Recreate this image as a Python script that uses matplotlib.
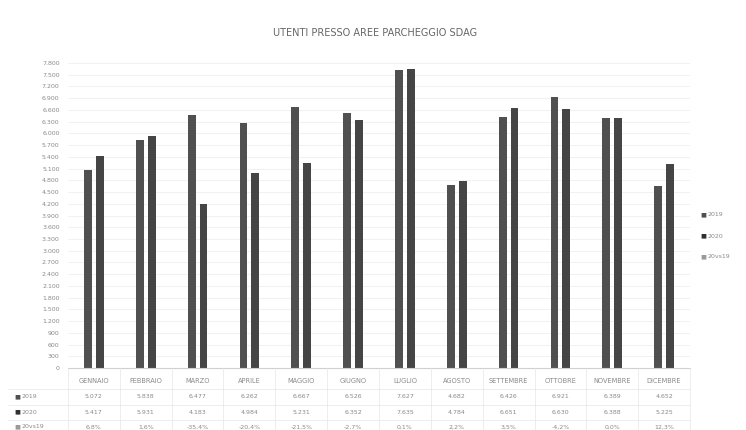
import matplotlib.pyplot as plt
import matplotlib.transforms as mtransforms
import numpy as np

# Monthly users at SDAG parking areas
months = ['GENNAIO', 'FEBBRAIO', 'MARZO', 'APRILE', 'MAGGIO', 'GIUGNO',
          'LUGLIO', 'AGOSTO', 'SETTEMBRE', 'OTTOBRE', 'NOVEMBRE', 'DICEMBRE']
users_2019 = [5072, 5838, 6477, 6262, 6667, 6526, 7627, 4682, 6426, 6921, 6389, 4652]
users_2020 = [5417, 5931, 4183, 4984, 5231, 6352, 7635, 4784, 6651, 6630, 6388, 5225]
row_labels = ['2019', '2020', '20vs19']


def fmt_int(v):
    return f'{v:,}'.replace(',', '.')


def fmt_pct(v):
    v = round(v, 1) + 0.0
    if v == 0:
        v = 0.0
    return f'{v:.1f}%'.replace('.', ',')


pct = [(b - a) / a * 100 for a, b in zip(users_2019, users_2020)]

W, H = 746, 430
fig = plt.figure(figsize=(W / 100, H / 100), dpi=100)
ax = fig.add_axes([68 / W, (H - 368) / H, 622 / W, 305 / H])

txt = '#8a8a8a'
x = np.arange(len(months))
ax.bar(x - 0.115, users_2019, width=0.15, color='#505050')
ax.bar(x + 0.115, users_2020, width=0.15, color='#454545')

ax.set_xlim(-0.5, len(months) - 0.5)
ax.set_ylim(0, 7800)
ax.set_yticks(np.arange(0, 7801, 300))
ax.set_yticklabels([fmt_int(v) for v in range(0, 7801, 300)], fontsize=4.5, color=txt)
ax.set_xticks([])
ax.tick_params(axis='y', length=0, pad=6)
ax.grid(axis='y', color='#efefef', linewidth=0.6)
ax.set_axisbelow(True)
for s in ['top', 'right', 'left']:
    ax.spines[s].set_visible(False)
ax.spines['bottom'].set_color('#d0d0d0')

fig.text(375 / W, 1 - 33 / H, 'UTENTI PRESSO AREE PARCHEGGIO SDAG',
         ha='center', va='center', fontsize=7, color='#666666')

# data table under the chart
trans = mtransforms.blended_transform_factory(ax.transData, fig.transFigure)
row_y = [381, 397, 412, 427]
for i, m in enumerate(months):
    ax.text(i, 1 - row_y[0] / H, m, transform=trans, ha='center', va='center',
            fontsize=4.8, color=txt)
    ax.text(i, 1 - row_y[1] / H, fmt_int(users_2019[i]), transform=trans,
            ha='center', va='center', fontsize=4.5, color=txt)
    ax.text(i, 1 - row_y[2] / H, fmt_int(users_2020[i]), transform=trans,
            ha='center', va='center', fontsize=4.5, color=txt)
    ax.text(i, 1 - row_y[3] / H, fmt_pct(pct[i]), transform=trans,
            ha='center', va='center', fontsize=4.5, color=txt)

key_colors = ['#505050', '#303030', '#9a9a9a']
for j, lab in enumerate(row_labels):
    y = 1 - row_y[j + 1] / H
    fig.text(14 / W, y, '\u25a0', ha='left', va='center', fontsize=4.5, color=key_colors[j])
    fig.text(22 / W, y, lab, ha='left', va='center', fontsize=4.5, color=txt)

# table grid lines
for yy in [389, 405, 420, 434]:
    fig.add_artist(plt.Line2D([8 / W, 690 / W], [1 - yy / H, 1 - yy / H],
                              color='#e6e6e6', linewidth=0.5))
for i in range(len(months) + 1):
    xf = (68 + i * 622 / 12) / W
    fig.add_artist(plt.Line2D([xf, xf], [0, 1 - 368 / H], color='#e6e6e6', linewidth=0.5))

# legend on the right
leg_y = [215, 236, 257]
for j, lab in enumerate(row_labels):
    y = 1 - leg_y[j] / H
    fig.text(700 / W, y, '\u25a0', ha='left', va='center', fontsize=4.5, color=key_colors[j])
    fig.text(708 / W, y, lab, ha='left', va='center', fontsize=4.5, color=txt)

fig.savefig('out.png', dpi=100)
